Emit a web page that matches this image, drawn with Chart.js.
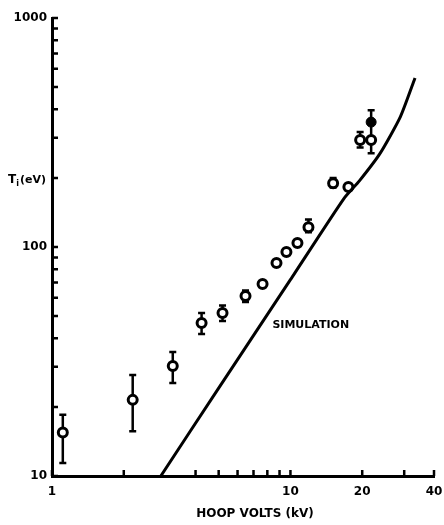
<!DOCTYPE html>
<html>
<head>
<meta charset="utf-8">
<script src="https://cdn.jsdelivr.net/npm/chart.js@4/dist/chart.umd.min.js"></script>
<style>
  html, body { margin: 0; padding: 0; background: #fff; }
  #wrap { width: 444px; height: 525px; }
</style>
</head>
<body>
<div id="wrap"><canvas id="chart"></canvas></div>
<script>
// measured ion temperature vs hoop volts
const hoopKV  = [1.11, 2.18, 3.21, 4.24, 5.19, 6.48, 7.64, 8.74, 9.62, 10.7, 11.9, 15.1, 17.5, 19.6, 21.8];
const tempEV  = [15.5, 21.5, 30.2, 46.6, 51.5, 61.1, 68.9, 85.1, 95, 104, 122, 190, 183, 293, 293];
const errLow  = [11.4, 15.7, 25.5, 41.7, 47.5, 57.5, 68.9, 85.1, 95, 104, 116, 182, 183, 272, 257];
const errHigh = [18.5, 27.6, 34.8, 51.5, 55.5, 64.6, 68.9, 85.1, 95, 104, 132, 200, 183, 318, 396];

// the one filled point
const filledKV = [21.8];
const filledEV = [351];

// simulation curve
const simKV = [2.86, 5.0, 10, 16.7, 19.5, 23.8, 28.9, 33.3];
const simEV = [10, 24.2, 72, 162, 195, 257, 370, 547];

// axis ticks
const xTicks  = [1, 2, 4, 5, 6, 7, 8, 9, 10, 20, 30, 40];
const xLabels = [1, 10, 20, 40];
const yTicks  = [10, 20, 30, 40, 50, 60, 70, 80, 90, 100, 200, 300, 400, 500, 600, 700, 800, 900, 1000];
const yLabels = [10, 100, 1000];

const FONT = '"DejaVu Sans", sans-serif';

const decor = {
  id: "decor",
  beforeDatasetsDraw(chart) {
    const ctx = chart.ctx, x = chart.scales.x, y = chart.scales.y;
    ctx.save();
    ctx.strokeStyle = "#000";
    ctx.lineWidth = 2.5;
    hoopKV.forEach((v, i) => {
      if (errHigh[i] <= errLow[i]) return;
      const px = x.getPixelForValue(v);
      const top = y.getPixelForValue(errHigh[i]);
      const bot = y.getPixelForValue(errLow[i]);
      ctx.beginPath();
      ctx.moveTo(px, top); ctx.lineTo(px, bot);
      ctx.moveTo(px - 3.5, top); ctx.lineTo(px + 3.5, top);
      ctx.moveTo(px - 3.5, bot); ctx.lineTo(px + 3.5, bot);
      ctx.stroke();
    });
    ctx.restore();
  },
  afterDraw(chart) {
    const ctx = chart.ctx, x = chart.scales.x, y = chart.scales.y;
    const area = chart.chartArea;
    ctx.save();
    ctx.strokeStyle = "#000";
    ctx.lineWidth = 2.5;
    ctx.beginPath();
    yTicks.forEach(v => {
      const py = y.getPixelForValue(v);
      ctx.moveTo(area.left, py); ctx.lineTo(area.left + 6, py);
    });
    xTicks.forEach(v => {
      const px = x.getPixelForValue(v);
      ctx.moveTo(px, area.bottom); ctx.lineTo(px, area.bottom - 6);
    });
    ctx.stroke();

    // y title, horizontal with subscript
    ctx.fillStyle = "#000";
    ctx.textBaseline = "middle";
    ctx.textAlign = "left";
    const ty = y.getPixelForValue(196);
    let tx = 8;
    ctx.font = "bold 12px " + FONT;
    ctx.fillText("T", tx, ty);
    tx += ctx.measureText("T").width;
    ctx.font = "bold 8px " + FONT;
    ctx.fillText("i", tx, ty + 4);
    tx += ctx.measureText("i").width + 1;
    ctx.font = "bold 11px " + FONT;
    ctx.fillText("(eV)", tx, ty);

    // x title, a little right of centre as in the original
    ctx.textAlign = "center";
    ctx.font = "bold 12px " + FONT;
    ctx.fillText("HOOP VOLTS (kV)", x.getPixelForValue(7.1), area.bottom + 38);

    // curve label
    ctx.textAlign = "left";
    ctx.font = "bold 11px " + FONT;
    ctx.fillText("SIMULATION", x.getPixelForValue(8.4), y.getPixelForValue(45.6));
    ctx.restore();
  }
};

new Chart(document.getElementById("chart"), {
  type: "scatter",
  data: {
    datasets: [
      {
        label: "simulation",
        data: simKV.map((v, i) => ({ x: v, y: simEV[i] })),
        showLine: true,
        borderColor: "#000",
        borderWidth: 3,
        pointRadius: 0,
        tension: 0.2
      },
      {
        label: "measured",
        data: hoopKV.map((v, i) => ({ x: v, y: tempEV[i] })),
        pointRadius: 4.5,
        pointBorderWidth: 3,
        pointBackgroundColor: "#fff",
        pointBorderColor: "#000"
      },
      {
        label: "filled",
        data: filledKV.map((v, i) => ({ x: v, y: filledEV[i] })),
        pointRadius: 5,
        pointBorderWidth: 1,
        pointBackgroundColor: "#000",
        pointBorderColor: "#000"
      }
    ]
  },
  options: {
    responsive: true,
    maintainAspectRatio: false,
    animation: false,
    layout: { padding: { top: 18, right: 10, left: 0, bottom: 0 } },
    plugins: { legend: { display: false }, tooltip: { enabled: false } },
    scales: {
      x: {
        type: "logarithmic",
        min: 1,
        max: 40,
        afterBuildTicks: s => { s.ticks = xTicks.map(v => ({ value: v })); },
        afterFit: s => { s.height = 49; s.paddingRight = 0; s.paddingLeft = 0; },
        ticks: {
          autoSkip: false,
          maxRotation: 0,
          padding: 9,
          color: "#000",
          font: { family: FONT, size: 12, weight: "bold" },
          callback: v => xLabels.includes(v) ? String(v) : ""
        },
        grid: { display: false, drawTicks: false },
        border: { display: true, color: "#000", width: 3 }
      },
      y: {
        type: "logarithmic",
        min: 10,
        max: 1000,
        afterBuildTicks: s => { s.ticks = yTicks.map(v => ({ value: v })); },
        afterFit: s => { s.width = 52; },
        ticks: {
          autoSkip: false,
          padding: 5,
          color: "#000",
          font: { family: FONT, size: 12, weight: "bold" },
          callback: v => yLabels.includes(v) ? String(v) : ""
        },
        grid: { display: false, drawTicks: false },
        border: { display: true, color: "#000", width: 3 }
      }
    }
  },
  plugins: [decor]
});
</script>
</body>
</html>
